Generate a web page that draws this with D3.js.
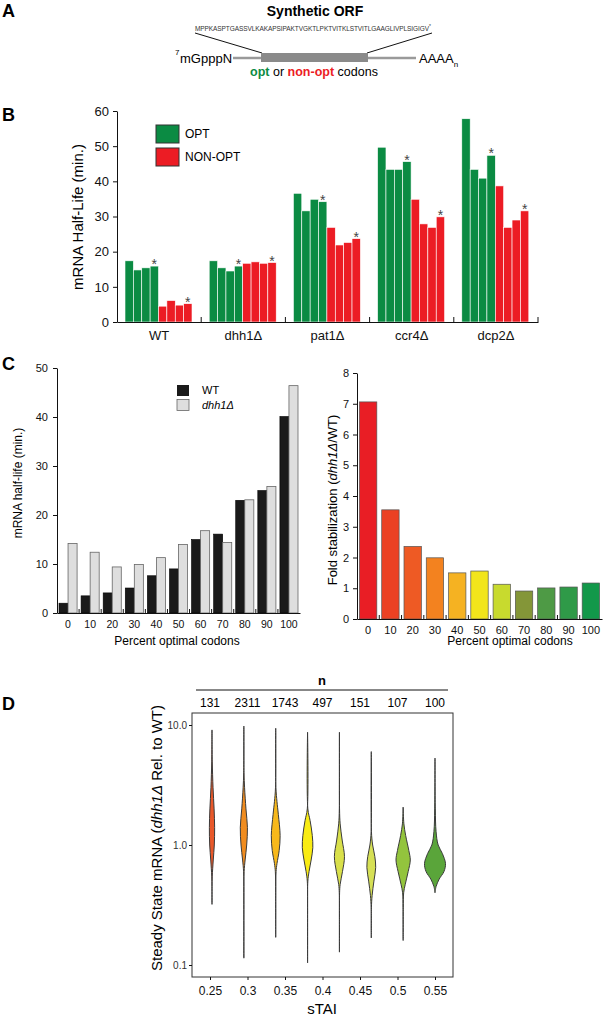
<!DOCTYPE html>
<html>
<head>
<meta charset="utf-8">
<script src="https://cdn.jsdelivr.net/npm/d3@7"></script>
<style>
  body { margin: 0; background: #fff; }
  svg { display: block; font-family: "Liberation Sans", Arial, sans-serif; }
</style>
</head>
<body>
<script>
// ---- panel A
const orfSequence = "MPPKASPTGASSVLKAKAPSIPAKTVGKTLPKTVITKLSTVITLGAAGLIVPLSIGIGV";

// ---- panel B: half-lives (min.) of 4 OPT and 4 NON-OPT reporters per strain
const strains = ["WT", "dhh1Δ", "pat1Δ", "ccr4Δ", "dcp2Δ"];
const optHalfLife = [
  [17.4, 14.8, 15.4, 15.9],
  [17.4, 15.4, 14.5, 15.9],
  [36.6, 31.6, 34.9, 34.2],
  [49.7, 43.4, 43.4, 45.6],
  [57.8, 43.4, 40.9, 47.4]
];
const nonOptHalfLife = [
  [4.5, 6.1, 4.8, 5.2],
  [16.7, 17.1, 16.7, 16.9],
  [26.9, 21.9, 22.6, 23.7],
  [34.9, 27.9, 26.9, 29.9],
  [38.7, 26.9, 29.0, 31.6]
];
const bTicks = [0, 10, 20, 30, 40, 50, 60];

// ---- panel C
const pctOptimal = ["0", "10", "20", "30", "40", "50", "60", "70", "80", "90", "100"];
const wtHalfLife = [2.0, 3.5, 4.1, 5.1, 7.6, 9.0, 15.0, 16.1, 23.0, 25.0, 40.1];
const dhh1HalfLife = [14.2, 12.4, 9.4, 9.9, 11.3, 14.0, 16.8, 14.4, 23.1, 25.8, 46.4];
const foldStab = [7.06, 3.55, 2.36, 1.99, 1.50, 1.56, 1.13, 0.91, 1.01, 1.04, 1.17];
const foldColors = ["#e91e25", "#eb4123", "#ee5a24", "#f3821f", "#f5b222", "#f2e51b",
                    "#c8da2e", "#849638", "#4e9a45", "#2f9a48", "#12984a"];

// ---- panel D
const staiLabels = ["0.25", "0.3", "0.35", "0.4", "0.45", "0.5", "0.55"];
const nGenes = [131, 2311, 1743, 497, 151, 107, 100];
// [ratio, density] from top tail to bottom tail
const violin1 = [[9.1,0],[5,0.025],[3,0.1],[2,0.2],[1.4,0.25],[1.0,0.22],[0.75,0.12],[0.55,0.025],[0.45,0.005],[0.32,0]];
const violin2 = [[9.8,0],[4,0.017],[3,0.07],[2,0.2],[1.4,0.34],[1.0,0.27],[0.75,0.12],[0.6,0.025],[0.4,0.007],[0.114,0]];
const violin3 = [[9.4,0],[3,0.021],[2.3,0.12],[1.8,0.25],[1.2,0.42],[0.9,0.33],[0.7,0.12],[0.6,0.035],[0.4,0.007],[0.17,0]];
const violin4 = [[8.7,0],[2,0.027],[1.6,0.24],[1.2,0.45],[0.95,0.5],[0.75,0.34],[0.6,0.14],[0.5,0.027],[0.3,0.005],[0.104,0]];
const violin5 = [[8.7,0],[2,0.01],[1.5,0.07],[1.1,0.26],[0.8,0.48],[0.6,0.29],[0.47,0.07],[0.4,0.015],[0.25,0.004],[0.128,0]];
const violin6 = [[6,0],[1.3,0.013],[1.0,0.13],[0.8,0.34],[0.65,0.42],[0.5,0.25],[0.38,0.08],[0.3,0.013],[0.168,0]];
const violin7 = [[2.07,0],[1.5,0.07],[1.2,0.24],[0.9,0.54],[0.75,0.68],[0.6,0.48],[0.47,0.2],[0.4,0.05],[0.3,0.014],[0.16,0]];
const violin8 = [[5.3,0],[2,0.03],[1.3,0.1],[1.0,0.3],[0.85,0.7],[0.7,1.0],[0.6,0.85],[0.52,0.4],[0.45,0.1],[0.4,0]];
const violins = [violin1, violin2, violin3, violin4, violin5, violin6, violin7, violin8];
const violinColors = ["#e8582a", "#f08c1f", "#f7b81b", "#f9ec13", "#d9e04a", "#d6e055", "#93c43d", "#5aa53a"];

const green = "#0b8b43";
const red = "#ec1c24";

const svg = d3.select("body").append("svg")
  .attr("width", 603)
  .attr("height", 1020);

function panelLetter(t, y) {
  svg.append("text").attr("x", 2).attr("y", y)
    .attr("font-size", 18).attr("font-weight", "bold").text(t);
}

function styleAxis(g, size) {
  g.attr("font-family", null).attr("font-size", size);
  g.selectAll("path, line").attr("stroke", "#111");
  g.selectAll("text").attr("fill", "#111");
}

// ================= A =================
panelLetter("A", 17);
const gA = svg.append("g");
gA.append("text").attr("x", 315).attr("y", 16).attr("text-anchor", "middle")
  .attr("font-size", 14).attr("font-weight", "bold").text("Synthetic ORF");
const seq = gA.append("text").attr("x", 195).attr("y", 31)
  .attr("font-size", 6.5).attr("fill", "#333");
seq.append("tspan").attr("textLength", 234).text(orfSequence);
seq.append("tspan").attr("dy", -3).attr("font-size", 5).text("*");
gA.append("line").attr("x1", 195).attr("y1", 33).attr("x2", 262).attr("y2", 53).attr("stroke", "#111");
gA.append("line").attr("x1", 432).attr("y1", 33).attr("x2", 367).attr("y2", 53).attr("stroke", "#111");
gA.append("line").attr("x1", 233).attr("y1", 58).attr("x2", 416).attr("y2", 58)
  .attr("stroke", "#9a9a9a").attr("stroke-width", 2.5);
gA.append("rect").attr("x", 261).attr("y", 53).attr("width", 107).attr("height", 9).attr("fill", "#8a8a8a");
gA.append("text").attr("x", 175).attr("y", 55).attr("font-size", 8).text("7");
gA.append("text").attr("x", 180).attr("y", 63).attr("font-size", 13).text("mGpppN");
const polyA = gA.append("text").attr("x", 419).attr("y", 63).attr("font-size", 13);
polyA.append("tspan").text("AAAA");
polyA.append("tspan").attr("dy", 4).attr("font-size", 8).text("n");
const codons = gA.append("text").attr("x", 314).attr("y", 76).attr("text-anchor", "middle").attr("font-size", 12.5);
codons.append("tspan").attr("fill", green).attr("font-weight", "bold").text("opt");
codons.append("tspan").text(" or ");
codons.append("tspan").attr("fill", red).attr("font-weight", "bold").text("non-opt");
codons.append("tspan").text(" codons");

// ================= B =================
panelLetter("B", 121);
const gB = svg.append("g");
const bx = d3.scaleBand().domain(strains).range([117, 538]);
const bInner = d3.scaleBand().domain(d3.range(8)).range([8, 75]);
const by = d3.scaleLinear().domain([0, 60]).range([322, 111]);

strains.forEach((s, i) => {
  const vals = optHalfLife[i].concat(nonOptHalfLife[i]);
  gB.append("g").selectAll("rect").data(vals).join("rect")
    .attr("x", (d, j) => bx(s) + bInner(j))
    .attr("y", d => by(d))
    .attr("width", bInner.bandwidth())
    .attr("height", d => by(0) - by(d))
    .attr("fill", (d, j) => j < 4 ? green : red)
    .attr("stroke", "#fff").attr("stroke-width", 0.6);
  [3, 7].forEach(j => {
    gB.append("text")
      .attr("x", bx(s) + bInner(j) + bInner.bandwidth() / 2)
      .attr("y", by(vals[j]) + 3)
      .attr("text-anchor", "middle").attr("font-size", 14).attr("fill", "#444")
      .text("*");
  });
});

const byAxis = gB.append("g").attr("transform", "translate(117,0)")
  .call(d3.axisLeft(by).tickValues(bTicks).tickSize(4).tickSizeOuter(0).tickPadding(4));
styleAxis(byAxis, 13);
const bxAxis = gB.append("g").attr("transform", "translate(0,322)")
  .call(d3.axisBottom(bx).tickSizeInner(0).tickSizeOuter(0).tickPadding(9));
styleAxis(bxAxis, 13);
gB.selectAll(null).data(strains).join("line")
  .attr("x1", d => bx(d) + bx.bandwidth()).attr("x2", d => bx(d) + bx.bandwidth())
  .attr("y1", 322).attr("y2", 317).attr("stroke", "#111");
gB.append("text").attr("transform", "translate(83,217) rotate(-90)")
  .attr("text-anchor", "middle").attr("font-size", 15).text("mRNA Half-Life (min.)");

// legend
[["OPT", green], ["NON-OPT", red]].forEach(([t, c], i) => {
  gB.append("rect").attr("x", 156).attr("y", 125 + i * 23).attr("width", 23).attr("height", 18)
    .attr("fill", c).attr("stroke", "#333").attr("stroke-width", 1);
  gB.append("text").attr("x", 185).attr("y", 138 + i * 23).attr("font-size", 12).text(t);
});

// ================= C left =================
panelLetter("C", 370);
const gC = svg.append("g");
const cx = d3.scaleBand().domain(pctOptimal).range([57, 300]);
const cInner = d3.scaleBand().domain(["WT", "dhh1"]).range([2, cx.bandwidth() - 2]);
const cy = d3.scaleLinear().domain([0, 50]).range([613, 368]);

gC.append("g").selectAll("rect").data(wtHalfLife).join("rect")
  .attr("x", (d, i) => cx(pctOptimal[i]) + cInner("WT"))
  .attr("y", d => cy(d)).attr("width", cInner.bandwidth()).attr("height", d => cy(0) - cy(d))
  .attr("fill", "#1a1a1a").attr("stroke", "#000").attr("stroke-width", 0.6);
gC.append("g").selectAll("rect").data(dhh1HalfLife).join("rect")
  .attr("x", (d, i) => cx(pctOptimal[i]) + cInner("dhh1"))
  .attr("y", d => cy(d)).attr("width", cInner.bandwidth()).attr("height", d => cy(0) - cy(d))
  .attr("fill", "#dedede").attr("stroke", "#666").attr("stroke-width", 0.8);

const cyAxis = gC.append("g").attr("transform", "translate(57,0)")
  .call(d3.axisLeft(cy).tickValues([0, 10, 20, 30, 40, 50]).tickSize(4).tickSizeOuter(0).tickPadding(5));
styleAxis(cyAxis, 11);
const cxAxis = gC.append("g").attr("transform", "translate(0,613)")
  .call(d3.axisBottom(cx).tickSizeInner(0).tickSizeOuter(0).tickPadding(8));
styleAxis(cxAxis, 10.5);
gC.selectAll(null).data(pctOptimal.slice(0, -1)).join("line")
  .attr("x1", d => cx(d) + cx.bandwidth()).attr("x2", d => cx(d) + cx.bandwidth())
  .attr("y1", 613).attr("y2", 609).attr("stroke", "#111");
gC.append("text").attr("transform", "translate(22,483) rotate(-90)")
  .attr("text-anchor", "middle").attr("font-size", 12).text("mRNA half-life (min.)");
gC.append("text").attr("x", 177).attr("y", 645).attr("text-anchor", "middle")
  .attr("font-size", 12).text("Percent optimal codons");

// legend
gC.append("rect").attr("x", 177).attr("y", 385).attr("width", 12).attr("height", 11).attr("fill", "#1a1a1a");
gC.append("rect").attr("x", 177).attr("y", 399.5).attr("width", 12).attr("height", 11)
  .attr("fill", "#dedede").attr("stroke", "#666").attr("stroke-width", 0.8);
gC.append("text").attr("x", 202).attr("y", 394).attr("font-size", 11).text("WT");
const lg = gC.append("text").attr("x", 202).attr("y", 409).attr("font-size", 11);
lg.append("tspan").attr("font-style", "italic").text("dhh1Δ");

// ================= C right =================
const gR = svg.append("g");
const rx = d3.scaleBand().domain(pctOptimal).range([357, 602]).paddingInner(0.22).paddingOuter(0.11);
const ry = d3.scaleLinear().domain([0, 8]).range([619, 373]);

gR.append("g").selectAll("rect").data(foldStab).join("rect")
  .attr("x", (d, i) => rx(pctOptimal[i]))
  .attr("y", d => ry(d)).attr("width", rx.bandwidth()).attr("height", d => ry(0) - ry(d))
  .attr("fill", (d, i) => foldColors[i]).attr("stroke", "#555").attr("stroke-width", 0.7);

const ryAxis = gR.append("g").attr("transform", "translate(357,0)")
  .call(d3.axisLeft(ry).ticks(8).tickSize(4).tickSizeOuter(0).tickPadding(4));
styleAxis(ryAxis, 11);
const rxAxis = gR.append("g").attr("transform", "translate(0,619)")
  .call(d3.axisBottom(rx).tickSizeInner(0).tickSizeOuter(0).tickPadding(7));
styleAxis(rxAxis, 11);
const rStep = rx.step();
gR.selectAll(null).data(pctOptimal.slice(0, -1)).join("line")
  .attr("x1", d => rx(d) + rx.bandwidth() + (rStep - rx.bandwidth()) / 2)
  .attr("x2", d => rx(d) + rx.bandwidth() + (rStep - rx.bandwidth()) / 2)
  .attr("y1", 619).attr("y2", 615).attr("stroke", "#111");
const rt = gR.append("text").attr("transform", "translate(337,500) rotate(-90)")
  .attr("text-anchor", "middle").attr("font-size", 13);
rt.append("tspan").text("Fold stabilization (");
rt.append("tspan").attr("font-style", "italic").text("dhh1Δ");
rt.append("tspan").text("/WT)");
gR.append("text").attr("x", 510).attr("y", 645).attr("text-anchor", "middle")
  .attr("font-size", 12).text("Percent optimal codons");

// ================= D =================
panelLetter("D", 710);
const gD = svg.append("g");
const dy = d3.scaleLog().domain([0.1, 10]).range([965, 725]);
const dx = d3.scalePoint().domain(staiLabels).range([210, 435]);
const vx = d3.scalePoint().domain(d3.range(violins.length)).range([212, 435]);
const vw = d3.scaleLinear().domain([0, 1]).range([0, 10.5]);

gD.append("rect").attr("x", 192).attr("y", 713).attr("width", 261).attr("height", 264)
  .attr("fill", "none").attr("stroke", "#333").attr("stroke-width", 1);

violins.forEach((v, i) => {
  const c = vx(i);
  const area = d3.area()
    .y(d => dy(d[0]))
    .x0(d => c - vw(d[1]))
    .x1(d => c + vw(d[1]))
    .curve(d3.curveCatmullRom.alpha(0.5));
  gD.append("path").attr("d", area(v))
    .attr("fill", violinColors[i]).attr("stroke", "#3a3a3a").attr("stroke-width", 1);
});

const dyAxis = gD.append("g").attr("transform", "translate(192,0)")
  .call(d3.axisLeft(dy).tickValues([0.1, 1, 10]).tickFormat(d3.format(".1f")).tickSize(3).tickSizeOuter(0).tickPadding(2));
dyAxis.select(".domain").remove();
styleAxis(dyAxis, 10);
dyAxis.selectAll("text").attr("fill", "#333");
const dxAxis = gD.append("g").attr("transform", "translate(0,977)")
  .call(d3.axisBottom(dx).tickSize(3).tickSizeOuter(0).tickPadding(6));
dxAxis.select(".domain").remove();
styleAxis(dxAxis, 12);

gD.append("text").attr("x", 322).attr("y", 1014).attr("text-anchor", "middle")
  .attr("font-size", 15).text("sTAI");
const dt = gD.append("text").attr("transform", "translate(162,838) rotate(-90)")
  .attr("text-anchor", "middle").attr("font-size", 15);
dt.append("tspan").text("Steady State mRNA (");
dt.append("tspan").attr("font-style", "italic").text("dhh1Δ");
dt.append("tspan").text(" Rel. to WT)");

// n counts header
gD.append("line").attr("x1", 196).attr("x2", 448).attr("y1", 690).attr("y2", 690).attr("stroke", "#111");
gD.append("text").attr("x", 322).attr("y", 685).attr("text-anchor", "middle")
  .attr("font-size", 13).attr("font-weight", "bold").text("n");
gD.selectAll(null).data(nGenes).join("text")
  .attr("x", (d, i) => dx(staiLabels[i])).attr("y", 707)
  .attr("text-anchor", "middle").attr("font-size", 12).text(d => d);
</script>
</body>
</html>
